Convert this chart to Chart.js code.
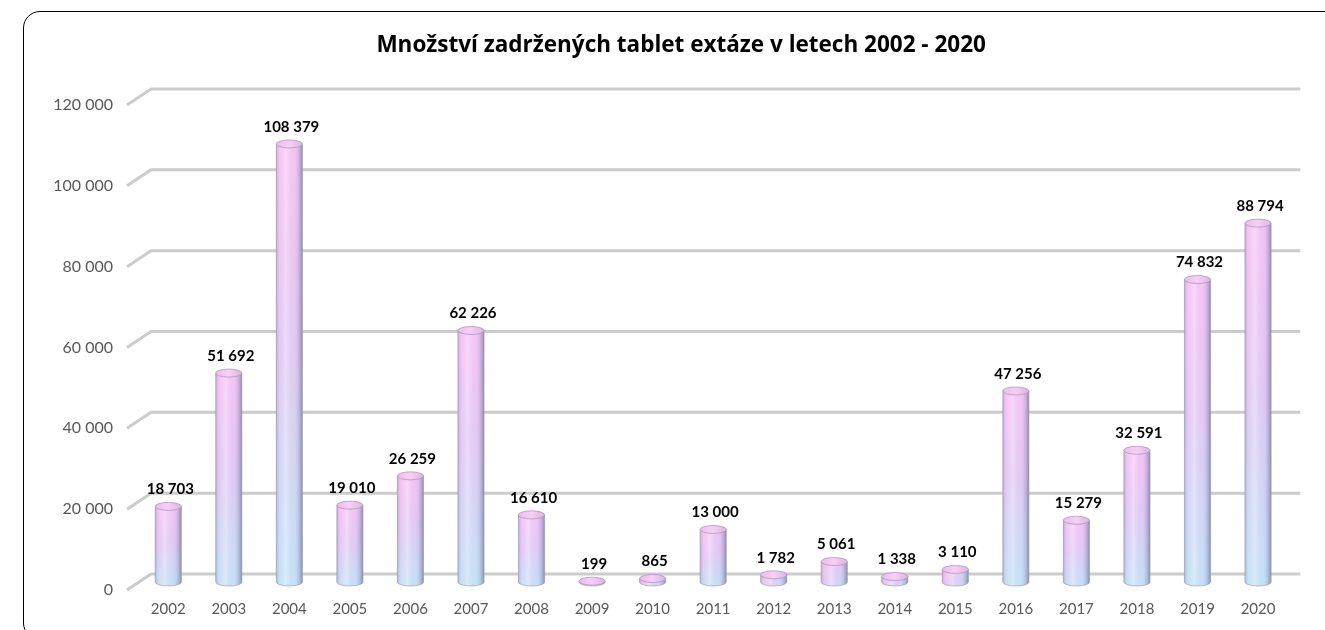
<!DOCTYPE html>
<html>
<head>
<meta charset="utf-8">
<script src="https://cdn.jsdelivr.net/npm/chart.js@4.4.1/dist/chart.umd.min.js"></script>
<style>
  html, body { margin: 0; padding: 0; background: #fff; overflow: hidden; }
  #wrap { position: relative; width: 1325px; height: 630px; overflow: hidden; }
  #frame {
    position: absolute; left: 23px; top: 11px; width: 1500px; height: 627px;
    border: 1.5px solid #000; border-radius: 17px 0 0 17px; pointer-events: none;
  }
</style>
</head>
<body>
<div id="wrap">
  <canvas id="chart" width="1325" height="630"></canvas>
  <div id="frame"></div>
</div>
<script>
const years = ['2002', '2003', '2004', '2005', '2006', '2007', '2008', '2009', '2010', '2011',
               '2012', '2013', '2014', '2015', '2016', '2017', '2018', '2019', '2020'];
const tablets = [18703, 51692, 108379, 19010, 26259, 62226, 16610, 199, 865, 13000,
                 1782, 5061, 1338, 3110, 47256, 15279, 32591, 74832, 88794];
const yTicks = [0, 20000, 40000, 60000, 80000, 100000, 120000];
const chartTitle = 'Množství zadržených tablet extáze v letech 2002 - 2020';

const FONT = 'Lato, "Open Sans", sans-serif';
const TITLE_FONT = '"Open Sans", Lato, sans-serif';

// 120000 -> "120 000"
function fmt(v) {
    return String(v).replace(/\B(?=(\d{3})+(?!\d))/g, ' ');
}

// title in the original sits a bit right of the canvas centre
const titleShift = {
    id: 'titleShift',
    afterLayout(chart) {
        if (chart.titleBlock) chart.titleBlock.left = 74;
    }
};

// 3D-ish back wall lines, like the old Excel chart
const wallGrid = {
    id: 'wallGrid',
    beforeDatasetsDraw(chart) {
        const ctx = chart.ctx;
        const sy = chart.scales.y;
        const { left, right } = chart.chartArea;
        ctx.save();
        ctx.strokeStyle = '#cccccc';
        ctx.lineWidth = 3;
        ctx.lineJoin = 'round';
        yTicks.forEach(v => {
            const yy = sy.getPixelForValue(v);
            ctx.beginPath();
            ctx.moveTo(left - 11, yy + 8);
            ctx.lineTo(left + 13, yy - 8);
            ctx.lineTo(right + 12, yy - 8);
            ctx.stroke();
        });
        ctx.restore();
    }
};

// draw each bar as a cylinder using the bar element geometry
const cylinders = {
    id: 'cylinders',
    afterDatasetsDraw(chart) {
        const ctx = chart.ctx;
        const meta = chart.getDatasetMeta(0);
        meta.data.forEach((bar, i) => {
            const { x, y, base, width } = bar.getProps(['x', 'y', 'base', 'width'], true);
            const rx = width / 2, ry = 4;
            const l = x - rx, r = x + rx;

            ctx.save();
            // body
            ctx.beginPath();
            ctx.moveTo(l, y);
            ctx.lineTo(l, base);
            ctx.ellipse(x, base, rx, ry, 0, Math.PI, 0, true);
            ctx.lineTo(r, y);
            ctx.closePath();

            const g = ctx.createLinearGradient(l, y, r, base + ry);
            g.addColorStop(0, '#f8c2f6');
            g.addColorStop(0.45, '#e4c8f4');
            g.addColorStop(1, '#c2e2f8');
            ctx.fillStyle = g;
            ctx.fill();

            const sh = ctx.createLinearGradient(l, 0, r, 0);
            sh.addColorStop(0, 'rgba(110,110,150,0.35)');
            sh.addColorStop(0.18, 'rgba(255,255,255,0.05)');
            sh.addColorStop(0.38, 'rgba(255,255,255,0.35)');
            sh.addColorStop(0.7, 'rgba(200,200,230,0.05)');
            sh.addColorStop(1, 'rgba(80,85,125,0.55)');
            ctx.fillStyle = sh;
            ctx.fill();

            ctx.strokeStyle = 'rgba(150,150,175,0.6)';
            ctx.lineWidth = 1;
            ctx.stroke();

            // top cap
            ctx.beginPath();
            ctx.ellipse(x, y, rx, ry, 0, 0, Math.PI * 2);
            const cg = ctx.createLinearGradient(l, 0, r, 0);
            cg.addColorStop(0, '#ecbdea');
            cg.addColorStop(0.5, '#f8cef6');
            cg.addColorStop(1, '#dcb5de');
            ctx.fillStyle = cg;
            ctx.fill();
            ctx.strokeStyle = 'rgba(160,150,180,0.7)';
            ctx.stroke();

            // value label
            ctx.fillStyle = '#000';
            ctx.font = 'bold 15px ' + FONT;
            ctx.textAlign = 'center';
            ctx.textBaseline = 'middle';
            ctx.fillText(fmt(tablets[i]), x + 2, y - 17);
            ctx.restore();
        });
    }
};

new Chart(document.getElementById('chart'), {
    type: 'bar',
    data: {
        labels: years,
        datasets: [{
            data: tablets,
            backgroundColor: 'rgba(0,0,0,0)',
            borderWidth: 0,
            categoryPercentage: 0.8,
            barPercentage: 0.54
        }]
    },
    options: {
        responsive: false,
        animation: false,
        layout: { padding: { left: 0, right: 36.7, top: 0, bottom: 0 } },
        plugins: {
            legend: { display: false },
            tooltip: { enabled: false },
            title: {
                display: true,
                text: chartTitle,
                color: '#000',
                font: { family: TITLE_FONT, size: 22.5, weight: 'bold' },
                padding: { top: 32, bottom: 38 }
            }
        },
        scales: {
            x: {
                grid: { display: false, drawTicks: false },
                border: { display: false },
                ticks: { color: '#595959', font: { family: FONT, size: 15 }, padding: 18 },
                afterFit(scale) { scale.height = 48; }
            },
            y: {
                min: 0,
                max: 120000,
                grid: { display: false, drawTicks: false },
                border: { display: false },
                ticks: {
                    color: '#595959',
                    font: { family: FONT, size: 16 },
                    padding: 25,
                    labelOffset: 8,
                    callback: v => fmt(v)
                },
                afterBuildTicks(scale) { scale.ticks = yTicks.map(v => ({ value: v })); },
                afterFit(scale) { scale.width = 138; }
            }
        }
    },
    plugins: [titleShift, wallGrid, cylinders]
});
</script>
</body>
</html>
